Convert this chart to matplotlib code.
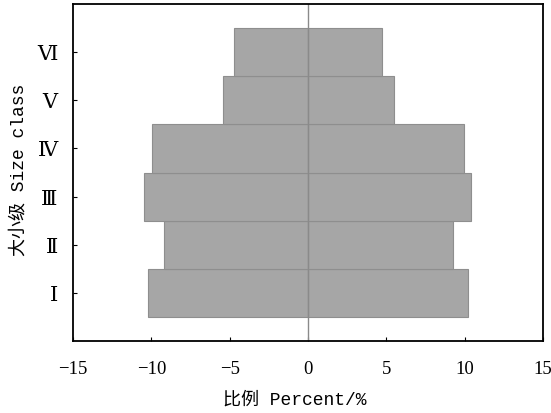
import numpy as np
import matplotlib
matplotlib.use('Agg')
import matplotlib.pyplot as plt

# size classes, bottom to top
classes = ['Ⅰ', 'Ⅱ', 'Ⅲ', 'Ⅳ', 'Ⅴ', 'Ⅵ']
# percent on each side (left drawn negative)
left_pct = [10.2, 9.2, 10.45, 9.95, 5.45, 4.75]
right_pct = [10.2, 9.25, 10.4, 9.95, 5.5, 4.75]
xticks = [-15, -10, -5, 0, 5, 10, 15]

serif = ['Liberation Serif', 'DejaVu Serif', 'Noto Sans CJK SC']
label_font = ['Liberation Mono', 'Noto Sans CJK SC']

fig = plt.figure(figsize=(5.51, 4.14), dpi=100)
ax = fig.add_axes([73/551, 1 - 342/414, 470/551, 337/414])

y = np.arange(1, len(classes) + 1)
ax.barh(y, -np.array(left_pct), height=1.0, color='#a6a6a6', edgecolor='#8e8e8e', linewidth=0.8)
ax.barh(y, right_pct, height=1.0, color='#a6a6a6', edgecolor='#8e8e8e', linewidth=0.8)
ax.axvline(0, color='#8a8a8a', linewidth=1.0)

ax.set_xlim(-15, 15)
ax.set_ylim(0, 7)
ax.set_xticks(xticks)
ax.set_xticklabels(['\u221215', '\u221210', '\u22125', '0', '5', '10', '15'], family=serif, fontsize=13.5)
ax.set_yticks(y)
ax.set_yticklabels(classes, family=serif, fontsize=15)
ax.tick_params(direction='in', length=3, width=0.8)
ax.tick_params(axis='x', pad=14)
ax.tick_params(axis='y', pad=11)

for s in ax.spines.values():
    s.set_linewidth(1.3)

ax.set_xlabel('比例 Percent/%', family=label_font, fontsize=13)
ax.xaxis.set_label_coords(0.472, -0.148)
ax.set_ylabel('大小级 Size class', family=label_font, fontsize=13)
ax.yaxis.set_label_coords(-0.097, 0.51)

fig.savefig('out.png', dpi=100)
